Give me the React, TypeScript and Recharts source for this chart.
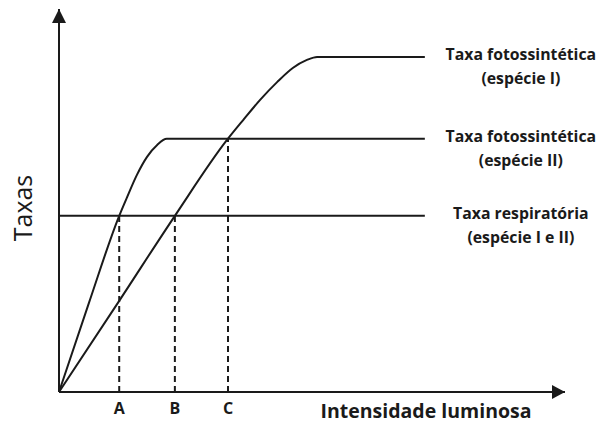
import { LineChart, Line, XAxis, YAxis, ReferenceLine, ReferenceDot } from "recharts";

// light intensity (x) and rate (y) in arbitrary units, 0..10 on both axes
const pointA = 1.19;
const pointB = 2.29;
const pointC = 3.34;
const xEnd = 7.23;

const respRate = 4.6;
const plateauII = 6.61;
const plateauI = 8.75;

const speciesI = [
  { x: 0, y: 0 },
  { x: 1.19, y: 2.38 },
  { x: pointB, y: respRate },
  { x: 3.32, y: 6.58 },
  { x: 3.64, y: 7.1 },
  { x: 3.97, y: 7.62 },
  { x: 4.31, y: 8.09 },
  { x: 4.62, y: 8.46 },
  { x: 4.9, y: 8.67 },
  { x: 5.1, y: plateauI },
  { x: 5.55, y: plateauI },
  { x: xEnd, y: plateauI },
];

const speciesII = [
  { x: 0, y: 0 },
  { x: 0.59, y: 2.32 },
  { x: pointA, y: respRate },
  { x: 1.34, y: 5.07 },
  { x: 1.54, y: 5.67 },
  { x: 1.74, y: 6.14 },
  { x: 1.94, y: 6.45 },
  { x: 2.13, y: plateauII },
  { x: 2.79, y: plateauII },
  { x: xEnd, y: plateauII },
];

const respiration = [
  { x: 0, y: respRate },
  { x: xEnd, y: respRate },
];

const tickValues = [pointA, pointB, pointC];
const tickNames = ["A", "B", "C"];

const seriesLabels = [
  { y: plateauI, lines: ["Taxa fotossintética", "(espécie I)"] },
  { y: plateauII, lines: ["Taxa fotossintética", "(espécie II)"] },
  { y: respRate, lines: ["Taxa respiratória", "(espécie I e II)"] },
];

const INK = "#1a1a1a";
const FONT = "'Open Sans', 'Noto Sans', sans-serif";

function endLabel(lines: string[]) {
  return (props: any) => (
    <text
      x={props.cx + 96}
      y={props.cy - 3}
      textAnchor="middle"
      dominantBaseline="central"
      fontFamily={FONT}
      fontWeight={700}
      fontSize={15.8}
      fill={INK}
    >
      <tspan x={props.cx + 96}>{lines[0]}</tspan>
      <tspan x={props.cx + 96} dy={24}>
        {lines[1]}
      </tspan>
    </text>
  );
}

export default function App() {
  return (
    <div style={{ position: "absolute", left: 0, top: 0, background: "#fff" }}>
      <LineChart
        width={611}
        height={424}
        margin={{ top: 9, right: 46, bottom: 0, left: 0 }}
      >
        <XAxis
          type="number"
          dataKey="x"
          domain={[0, 10]}
          ticks={tickValues}
          tickFormatter={(v: number) => tickNames[tickValues.indexOf(v)] ?? ""}
          tickLine={false}
          tickMargin={5}
          height={32}
          axisLine={{ stroke: INK, strokeWidth: 2 }}
          tick={{ fill: INK, fontSize: 16, fontWeight: 700, fontFamily: FONT }}
          label={{
            content: () => (
              <text
                x={426}
                y={410}
                textAnchor="middle"
                dominantBaseline="central"
                fontFamily={FONT}
                fontWeight={700}
                fontSize={19.5}
                fill={INK}
              >
                Intensidade luminosa
              </text>
            ),
          }}
        />
        <YAxis
          type="number"
          dataKey="y"
          domain={[0, 10]}
          width={59}
          tick={false}
          tickLine={false}
          axisLine={{ stroke: INK, strokeWidth: 2 }}
          label={{
            content: () => (
              <text
                x={22}
                y={208}
                transform="rotate(-90 22 208)"
                textAnchor="middle"
                dominantBaseline="central"
                fontFamily={FONT}
                fontSize={25}
                fill={INK}
              >
                Taxas
              </text>
            ),
          }}
        />

        <ReferenceLine
          segment={[{ x: pointA, y: 0 }, { x: pointA, y: respRate }]}
          stroke={INK}
          strokeWidth={2}
          strokeDasharray="6 4"
        />
        <ReferenceLine
          segment={[{ x: pointB, y: 0 }, { x: pointB, y: respRate }]}
          stroke={INK}
          strokeWidth={2}
          strokeDasharray="6 4"
        />
        <ReferenceLine
          segment={[{ x: pointC, y: 0 }, { x: pointC, y: plateauII }]}
          stroke={INK}
          strokeWidth={2}
          strokeDasharray="6 4"
        />

        <Line
          data={respiration}
          dataKey="y"
          type="linear"
          stroke={INK}
          strokeWidth={2}
          dot={false}
          isAnimationActive={false}
        />
        <Line
          data={speciesII}
          dataKey="y"
          type="monotone"
          stroke={INK}
          strokeWidth={2}
          dot={false}
          isAnimationActive={false}
        />
        <Line
          data={speciesI}
          dataKey="y"
          type="monotone"
          stroke={INK}
          strokeWidth={2}
          dot={false}
          isAnimationActive={false}
        />

        {seriesLabels.map((s, i) => (
          <ReferenceDot
            key={i}
            x={xEnd}
            y={s.y}
            r={0}
            shape={endLabel(s.lines)}
          />
        ))}

        <ReferenceDot
          x={0}
          y={10}
          r={0}
          shape={(p: any) => (
            <path
              d={`M${p.cx},${p.cy} L${p.cx - 7},${p.cy + 14} L${p.cx + 7},${p.cy + 14} Z`}
              fill={INK}
            />
          )}
        />
        <ReferenceDot
          x={10}
          y={0}
          r={0}
          shape={(p: any) => (
            <path
              d={`M${p.cx},${p.cy} L${p.cx - 13},${p.cy - 7} L${p.cx - 13},${p.cy + 7} Z`}
              fill={INK}
            />
          )}
        />
      </LineChart>
    </div>
  );
}
